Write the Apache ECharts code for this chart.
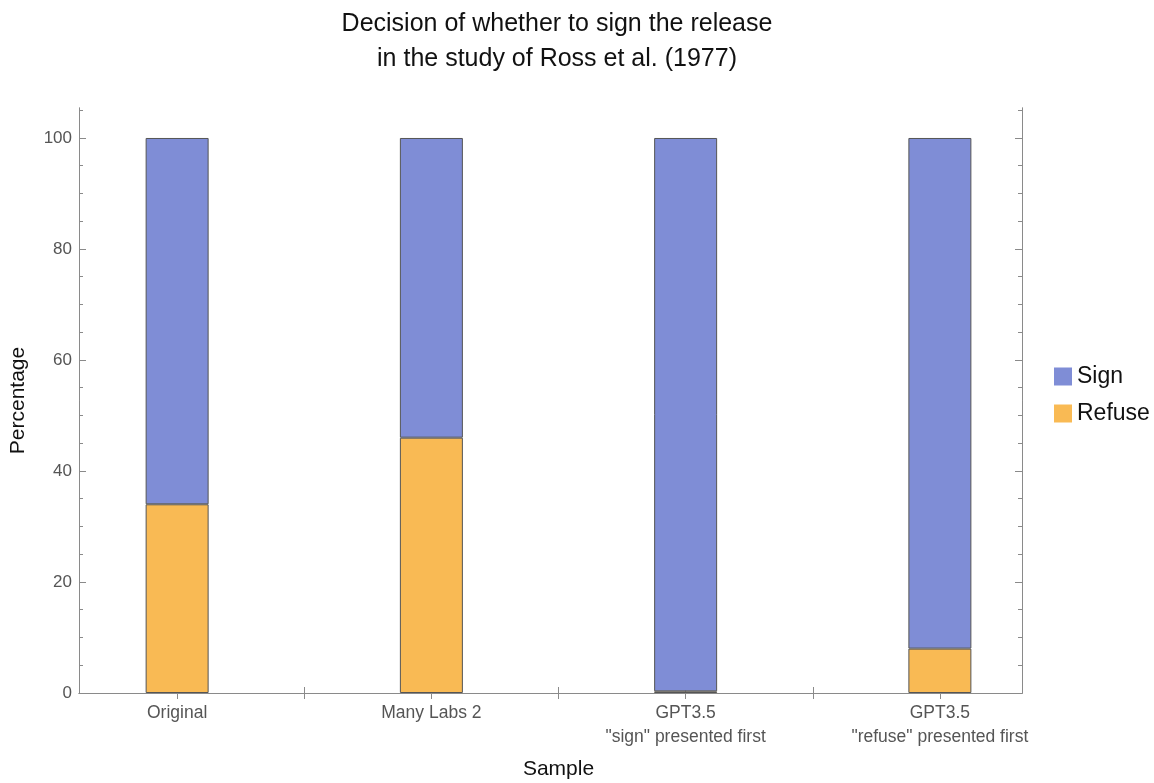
<!DOCTYPE html>
<html><head><meta charset="utf-8">
<script src="https://cdn.jsdelivr.net/npm/echarts@6/dist/echarts.min.js"></script>
<style>html,body{margin:0;padding:0;background:#fff}#c{width:1154px;height:783px}</style>
</head><body><div id="c"></div>
<script>
const categories = ['Original', 'Many Labs 2', 'GPT3.5\n"sign" presented first', 'GPT3.5\n"refuse" presented first'];
const refuseValues = [34, 46, 0.3, 8];
const signValues = [66, 54, 99.7, 92];
const yMajorTicks = [0, 20, 40, 60, 80, 100];
const yMinorTicks = [5, 10, 15, 25, 30, 35, 45, 50, 55, 65, 70, 75, 85, 90, 95, 105];
const xTicks = [1, 1.5, 2, 2.5, 3, 3.5, 4];

const axisGrey = '#8a8a8a';
const font = 'Liberation Sans, Arial, sans-serif';
const chart = echarts.init(document.getElementById('c'));
const yMax = 105.4;
const xFrame = {
  type: 'value', min: 0.615, max: 4.322, gridIndex: 0,
  axisLine: {show: true, lineStyle: {color: axisGrey}},
  splitLine: {show: false}, axisLabel: {show: false}
};
const yFrame = {
  type: 'value', min: 0, max: yMax, gridIndex: 0,
  splitLine: {show: false},
  axisLine: {show: true, lineStyle: {color: axisGrey}},
};
chart.setOption({
  animation: false,
  backgroundColor: '#fff',
  title: {
    text: 'Decision of whether to sign the release\nin the study of Ross et al. (1977)',
    left: 552, top: 2, textAlign: 'center',
    textStyle: {fontFamily: font, fontSize: 25, fontWeight: 'normal', color: '#111', lineHeight: 35}
  },
  legend: {
    orient: 'vertical', left: 1049, top: 360, itemWidth: 18, itemHeight: 18, itemGap: 14,
    icon: 'rect',
    itemStyle: {borderWidth: 0},
    textStyle: {fontFamily: font, fontSize: 23, color: '#111', padding: [0, 0, 0, 0]},
    data: ['Sign', 'Refuse']
  },
  grid: [
    {left: 79, right: 132, top: 108, bottom: 90, show: false, outerBoundsMode: 'none', containLabel: false},
    {left: 50, right: 87, top: 108, bottom: 90, show: false, outerBoundsMode: 'none', containLabel: false}
  ],
  xAxis: [
    Object.assign({}, xFrame, {
      position: 'bottom',
      axisTick: {show: true, inside: true, length: 6, lineStyle: {color: axisGrey}, customValues: xTicks}
    }),
    Object.assign({}, xFrame, {
      position: 'top',
      axisTick: {show: true, inside: true, length: 6, lineStyle: {color: axisGrey}, customValues: xTicks}
    }),
    {
      type: 'category', gridIndex: 1, data: categories, position: 'bottom',
      axisLine: {show: false}, axisTick: {show: false}, splitLine: {show: false},
      name: 'Sample', nameLocation: 'middle', nameGap: 66,
      nameTextStyle: {fontFamily: font, fontSize: 21, color: '#111'},
      axisLabel: {show: true, interval: 0, margin: 8, lineHeight: 24, fontFamily: font, fontSize: 17.5, color: '#555'}
    }
  ],
  yAxis: [
    Object.assign({}, yFrame, {
      position: 'left',
      name: 'Percentage', nameLocation: 'middle', nameGap: 50, nameRotate: 90,
      nameTextStyle: {fontFamily: font, fontSize: 21, color: '#111'},
      axisTick: {show: true, inside: true, length: 7, lineStyle: {color: axisGrey}, customValues: yMajorTicks},
      axisLabel: {show: true, customValues: yMajorTicks, margin: 7, fontFamily: font, fontSize: 17, color: '#555'}
    }),
    Object.assign({}, yFrame, {
      position: 'left',
      axisTick: {show: true, inside: true, length: 4, lineStyle: {color: axisGrey}, customValues: yMinorTicks},
      axisLabel: {show: false}
    }),
    Object.assign({}, yFrame, {
      position: 'right',
      axisTick: {show: true, inside: true, length: 7, lineStyle: {color: axisGrey}, customValues: yMajorTicks},
      axisLabel: {show: false}
    }),
    Object.assign({}, yFrame, {
      position: 'right',
      axisTick: {show: true, inside: true, length: 4, lineStyle: {color: axisGrey}, customValues: yMinorTicks},
      axisLabel: {show: false}
    }),
    {
      type: 'value', gridIndex: 1, min: 0, max: yMax, show: false
    }
  ],
  series: [
    {
      name: 'Refuse', type: 'bar', stack: 'total', barWidth: 63, xAxisIndex: 2, yAxisIndex: 4,
      itemStyle: {color: '#F9BA54', borderColor: '#555', borderWidth: 1},
      data: refuseValues
    },
    {
      name: 'Sign', type: 'bar', stack: 'total', barWidth: 63, xAxisIndex: 2, yAxisIndex: 4,
      itemStyle: {color: '#7F8DD6', borderColor: '#555', borderWidth: 1},
      data: signValues
    }
  ]
});
</script></body></html>
